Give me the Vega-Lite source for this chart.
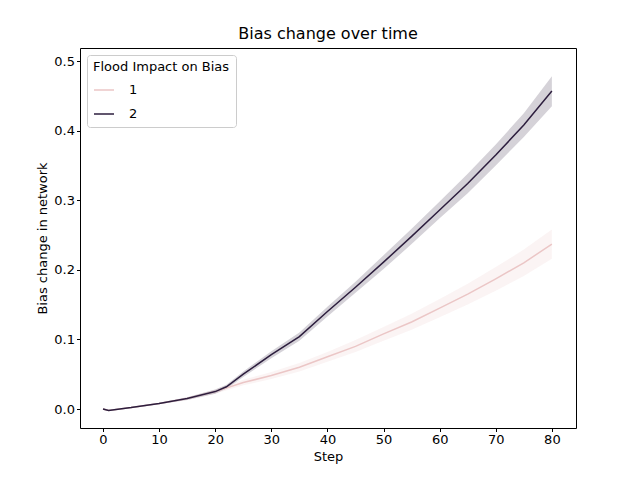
{
  "$schema": "https://vega.github.io/schema/vega-lite/v6.json",
  "width": 496,
  "height": 380,
  "autosize": "none",
  "padding": {"left": 80, "top": 48, "right": 64, "bottom": 52},
  "background": "white",
  "config": {
    "font": "DejaVu Sans",
    "view": {"stroke": "black", "strokeWidth": 1},
    "axis": {"grid": false, "domain": false, "tickColor": "black", "labelColor": "black", "titleColor": "black", "labelFontSize": 13, "titleFontSize": 13, "titleFontWeight": "normal", "tickSize": 3.5}
  },
  "title": {"text": "Bias change over time", "fontSize": 16, "fontWeight": "normal", "offset": 6},
  "data": {"values": [
    {"step":0,"series":"1","mean":0.000,"lo":-0.001,"hi":0.001},
    {"step":1,"series":"1","mean":-0.002,"lo":-0.003,"hi":-0.001},
    {"step":5,"series":"1","mean":0.002,"lo":0.001,"hi":0.003},
    {"step":10,"series":"1","mean":0.008,"lo":0.007,"hi":0.009},
    {"step":15,"series":"1","mean":0.015,"lo":0.013,"hi":0.017},
    {"step":20,"series":"1","mean":0.025,"lo":0.022,"hi":0.028},
    {"step":25,"series":"1","mean":0.038,"lo":0.034,"hi":0.042},
    {"step":30,"series":"1","mean":0.048,"lo":0.043,"hi":0.053},
    {"step":35,"series":"1","mean":0.060,"lo":0.054,"hi":0.066},
    {"step":40,"series":"1","mean":0.075,"lo":0.068,"hi":0.082},
    {"step":45,"series":"1","mean":0.090,"lo":0.082,"hi":0.099},
    {"step":50,"series":"1","mean":0.108,"lo":0.098,"hi":0.118},
    {"step":55,"series":"1","mean":0.125,"lo":0.114,"hi":0.137},
    {"step":60,"series":"1","mean":0.145,"lo":0.132,"hi":0.158},
    {"step":65,"series":"1","mean":0.165,"lo":0.150,"hi":0.180},
    {"step":70,"series":"1","mean":0.187,"lo":0.170,"hi":0.204},
    {"step":75,"series":"1","mean":0.210,"lo":0.191,"hi":0.229},
    {"step":80,"series":"1","mean":0.237,"lo":0.216,"hi":0.258},
    {"step":0,"series":"2","mean":0.000,"lo":-0.001,"hi":0.001},
    {"step":1,"series":"2","mean":-0.002,"lo":-0.003,"hi":-0.001},
    {"step":5,"series":"2","mean":0.002,"lo":0.001,"hi":0.003},
    {"step":10,"series":"2","mean":0.008,"lo":0.007,"hi":0.009},
    {"step":15,"series":"2","mean":0.015,"lo":0.013,"hi":0.017},
    {"step":20,"series":"2","mean":0.025,"lo":0.022,"hi":0.028},
    {"step":22,"series":"2","mean":0.032,"lo":0.029,"hi":0.035},
    {"step":25,"series":"2","mean":0.050,"lo":0.046,"hi":0.054},
    {"step":30,"series":"2","mean":0.078,"lo":0.073,"hi":0.083},
    {"step":35,"series":"2","mean":0.104,"lo":0.098,"hi":0.110},
    {"step":40,"series":"2","mean":0.140,"lo":0.133,"hi":0.147},
    {"step":45,"series":"2","mean":0.175,"lo":0.167,"hi":0.183},
    {"step":50,"series":"2","mean":0.211,"lo":0.201,"hi":0.221},
    {"step":55,"series":"2","mean":0.248,"lo":0.237,"hi":0.259},
    {"step":60,"series":"2","mean":0.286,"lo":0.274,"hi":0.298},
    {"step":65,"series":"2","mean":0.324,"lo":0.310,"hi":0.338},
    {"step":70,"series":"2","mean":0.365,"lo":0.350,"hi":0.380},
    {"step":75,"series":"2","mean":0.408,"lo":0.391,"hi":0.425},
    {"step":80,"series":"2","mean":0.457,"lo":0.435,"hi":0.478}
  ]},
  "encoding": {
    "x": {"field": "step", "type": "quantitative", "title": "Step", "scale": {"domain": [-4.1, 84.3], "nice": false, "zero": false}, "axis": {"values": [0,10,20,30,40,50,60,70,80]}},
    "color": {"field": "series", "type": "nominal", "scale": {"domain": ["1","2"], "range": ["#ebc6c6","#2d1e3e"]}, "legend": {"title": "Flood Impact on Bias", "orient": "top-left", "offset": 7, "symbolType": "stroke", "symbolStrokeWidth": 1.5, "symbolSize": 400, "symbolOpacity": 1, "fillColor": "white", "strokeColor": "#cccccc", "padding": 6, "cornerRadius": 3, "titleFontWeight": "normal", "titleFontSize": 13, "labelFontSize": 13, "rowPadding": 6, "labelOffset": 14}}
  },
  "layer": [
    {
      "mark": {"type": "area", "opacity": 0.2},
      "encoding": {
        "y": {"field": "lo", "type": "quantitative"},
        "y2": {"field": "hi"}
      }
    },
    {
      "mark": {"type": "line", "strokeWidth": 1.5},
      "encoding": {
        "y": {"field": "mean", "type": "quantitative", "title": "Bias change in network", "scale": {"domain": [-0.0273, 0.5187], "nice": false, "zero": false}, "axis": {"values": [0,0.1,0.2,0.3,0.4,0.5], "format": ".1f"}}
      }
    }
  ]
}
